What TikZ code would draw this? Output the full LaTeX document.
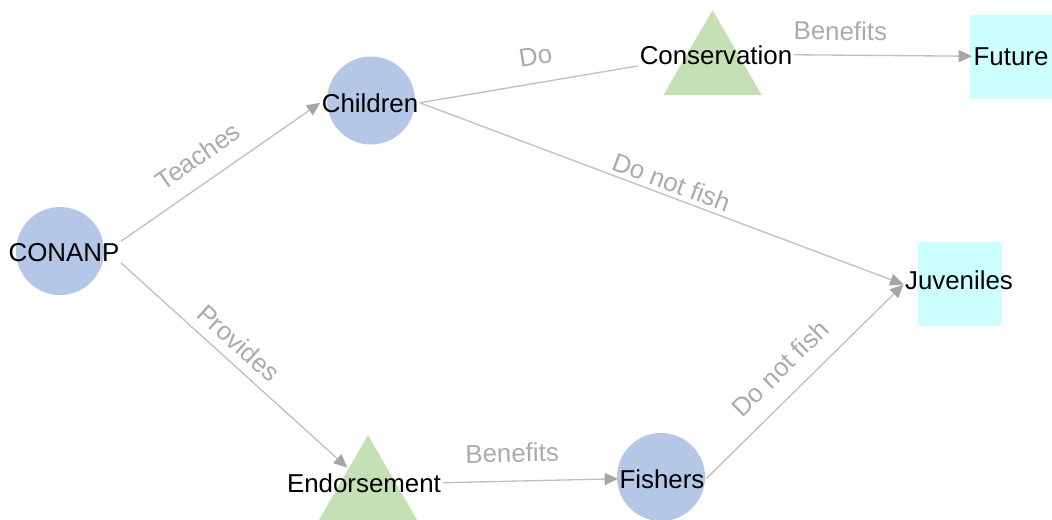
\documentclass[tikz,border=0pt]{standalone}
\usepackage{fontspec}
\setmainfont{Liberation Sans}
\usetikzlibrary{arrows.meta,shapes.geometric}
\definecolor{nodeblue}{HTML}{B4C7E7}
\definecolor{nodegreen}{HTML}{C5E0B4}
\definecolor{nodecyan}{HTML}{CCFFFF}
\definecolor{edgegray}{HTML}{C0C0C0}
\definecolor{tipgray}{HTML}{A6A6A6}
\definecolor{labelgray}{HTML}{ABABAB}
\begin{document}
\begin{tikzpicture}[x=0.75pt,y=-0.75pt,
  circ/.style={circle, fill=nodeblue, draw=none, minimum size=66pt, inner sep=0pt},
  tri/.style={regular polygon, regular polygon sides=3, fill=nodegreen, draw=none, minimum size=85pt, inner sep=0pt},
  sq/.style={rectangle, fill=nodecyan, draw=none, minimum size=63pt, inner sep=0pt},
  txt/.style={font=\fontsize{19.4}{23}\selectfont, text=black, inner sep=1pt, anchor=base},
  lbl/.style={font=\fontsize{19.4}{23}\selectfont, text=labelgray, inner sep=1pt, sloped},
  link/.style={draw=edgegray, line width=1pt, -{Triangle[length=10pt,width=9pt,color=tipgray]}},
  bareline/.style={draw=edgegray, line width=1pt}]
\useasboundingbox (0,0) rectangle (1052,519);
% shapes
\node[circ] (conanpS) at (60,251) {};
\node[circ] (childrenS) at (371,100.5) {};
\node[circ] (fishersS) at (661,477) {};
\node[tri] (conservationS) at (712.5,66.7) {};
\node[tri] (endorsementS) at (368,491.7) {};
\node[sq] (futureS) at (1011.5,56.5) {};
\node[sq] (juvenilesS) at (959.5,284) {};
% texts
\node[txt] (conanp) at (64,261) {CONANP};
\node[txt] (children) at (370,112) {Children};
\node[txt] (conservation) at (716,64) {Conservation};
\node[txt] (future) at (1011,65) {Future};
\node[txt] (juveniles) at (959,289) {Juveniles};
\node[txt] (endorsement) at (364,492) {Endorsement};
\node[txt] (fishers) at (662,488) {Fishers};
% connectors
\draw[link] (conanp.north east) -- node[lbl, pos=0.46, above=11pt] {Teaches} (children.west);
\draw[link, shorten >=17pt] (conanp.south east) -- node[lbl, pos=0.43, above=6pt] {Provides} (endorsement.center);
\draw[bareline] (children.east) -- node[lbl, pos=0.55, above=11.5pt] {Do} (conservation.south west);
\draw[link] (children.east) -- node[lbl, pos=0.51, above=2pt] {Do not fish} ([yshift=-3.5pt]juveniles.west);
\draw[link] (conservation.east) -- node[lbl, pos=0.26, above=9.5pt] {Benefits} (future.west);
\draw[link] (endorsement.east) -- node[lbl, pos=0.40, above=12.5pt] {Benefits} (fishers.west);
\draw[link] (fishers.east) -- node[lbl, pos=0.47, above=11.5pt] {Do not fish} ([yshift=-3.5pt]juveniles.west);
\end{tikzpicture}
\end{document}
